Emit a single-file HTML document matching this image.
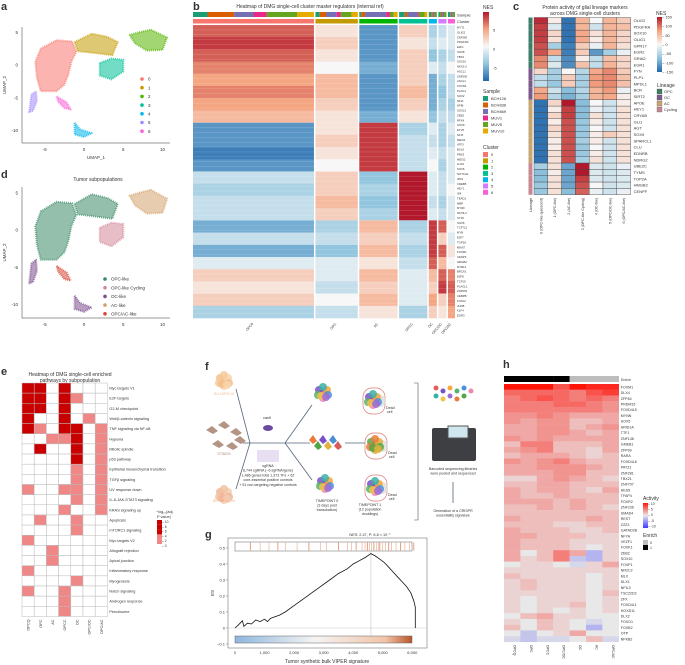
<!DOCTYPE html>
<html><head><meta charset="utf-8"><style>
html,body{margin:0;padding:0;background:#fff}
svg{display:block;font-family:"Liberation Sans",sans-serif}
text{fill:#333}
</style></head><body>
<svg id="fig" xmlns="http://www.w3.org/2000/svg" width="685" height="665" viewBox="0 0 685 665">
<rect width="685" height="665" fill="#fff"/>
<!-- panel letters -->
<g font-weight="bold" font-size="11">
<text x="1" y="10">a</text>
<text x="193" y="10">b</text>
<text x="513" y="10">c</text>
<text x="1" y="178">d</text>
<text x="1" y="375">e</text>
<text x="205" y="370">f</text>
<text x="205" y="538">g</text>
<text x="503" y="368">h</text>
</g>
<g id="pa"></g>
<g id="pd">
<text x="98" y="181" font-size="5" text-anchor="middle">Tumor subpopulations</text>
</g>
<g id="pb">
<text x="310" y="8" font-size="5" text-anchor="middle">Heatmap of DMG single-cell cluster master regulators (internal ref)</text>
</g>
<g id="pc">
<text x="585" y="9" font-size="5" text-anchor="middle">Protein activity of glial lineage markers</text>
<text x="585" y="15" font-size="5" text-anchor="middle">across DMG single-cell clusters</text>
</g>
<g id="pe">
<text x="70" y="376" font-size="5" text-anchor="middle">Heatmap of DMG single-cell enriched</text>
<text x="70" y="382" font-size="5" text-anchor="middle">pathways by subpopulation</text>
</g>
<g id="pf"></g>
<g id="pg"></g>
<g id="ph"></g>
</svg>
<script>
const NS='http://www.w3.org/2000/svg';
function mk(tag,at,parent){const e=document.createElementNS(NS,tag);for(const k in at)e.setAttribute(k,at[k]);parent.appendChild(e);return e;}
function txt(s,at,parent){const e=mk('text',at,parent);e.textContent=s;return e;}
function lerp(a,b,t){return a.map((v,i)=>Math.round(v+(b[i]-v)*t));}
const RDBU=[[33,102,172],[146,197,222],[247,247,247],[244,165,130],[178,24,43]];
function rdbu(v){v=Math.max(-1,Math.min(1,v));const p=(v+1)*2;const i=Math.min(3,Math.floor(p));const c=lerp(RDBU[i],RDBU[i+1],p-i);return 'rgb('+c+')';}

/* ---------- data: UMAP ---------- */
const clusterIds=['0','1','2','3','4','5','6'];
const clusterColors=['#f8766d','#c49a00','#53b400','#00c094','#00b6eb','#a58aff','#fb61d7'];
const clusterPolys=[
 [[-5.5,2.5],[-3.5,3.8],[-1.5,3.6],[-1,2],[-1.6,0.5],[-2,-1.5],[-2.5,-3],[-3.5,-4],[-5.5,-4],[-6,-2],[-6.2,0.5]],
 [[-1.2,3.5],[1,4.8],[3,4.3],[4.3,3.5],[3.6,1.5],[1.5,1.8],[-0.8,2.1]],
 [[5.8,4.6],[7,5],[8.5,5.4],[10.6,4.2],[10,2.3],[8,2.2],[6.5,3.3]],
 [[2,0.3],[3.5,1],[5,0.8],[5,-1],[3.5,-2.2],[2,-1.6]],
 [[-1.2,-8.8],[-0.5,-9.8],[1,-10.4],[0,-11],[-1.2,-10.6]],
 [[-7,-7.2],[-6.7,-4.5],[-6.1,-4],[-6,-5.5],[-6.5,-7]],
 [[-3.5,-4.8],[-2.2,-5.7],[-1.7,-6.8],[-2.5,-6.6],[-3.3,-5.6]]
];
const subNames=['OPC-like','OPC-like Cycling','OC-like','AC-like','OPC/AC-like'];
const subColors=['#3a8a67','#d4899a','#7e4f8d','#d3a36d','#d8493a'];
const clusterToSub=[0,0,3,1,2,2,4];
const umapXTicks=[-5,0,5,10];
const umapYTicks=[5,0,-5,-10];

function umapPanel(g,yScale,top,bot,colorFn,legendNames,legendColors,legY,legX,showXLab){
 const X=v=>84+v*7.85;
 mk('line',{x1:22,y1:top,x2:22,y2:bot,stroke:'#333','stroke-width':0.5},g);
 mk('line',{x1:22,y1:bot,x2:170,y2:bot,stroke:'#333','stroke-width':0.5},g);
 umapXTicks.forEach(t=>{const e=txt(String(t),{x:X(t),y:bot+8,'font-size':4.5,'text-anchor':'middle'},g);
  });
 umapYTicks.forEach(t=>{const e=txt(String(t),{x:18,y:yScale(t)+1.5,'font-size':4.5,'text-anchor':'end'},g);
  });
 const yl=txt('UMAP_2',{x:6,y:(top+bot)/2,'font-size':4.5,'text-anchor':'middle',transform:'rotate(-90 6 '+(top+bot)/2+')'},g);
 
 if(showXLab){const xl=txt('UMAP_1',{x:96,y:bot+16,'font-size':4.5,'text-anchor':'middle'},g);
  }
 clusterPolys.forEach((poly,i)=>{
  const pts=poly.map(p=>X(p[0]).toFixed(1)+','+yScale(p[1]).toFixed(1)).join(' ');
  const e=mk('polygon',{points:pts,fill:colorFn(i),'fill-opacity':0.55,stroke:colorFn(i),'stroke-width':2,'stroke-opacity':0.7,'stroke-linejoin':'round','stroke-dasharray':'1 1'},g);
  
 });
 legendNames.forEach((n,i)=>{
  const c=mk('circle',{cx:legX,cy:legY+i*8.7,r:1.8,fill:legendColors[i]},g);
  
  const t=txt(n,{x:legX+6,y:legY+i*8.7+1.7,'font-size':4.5},g);
  
 });
}
umapPanel(document.getElementById('pa'),v=>65-v*6.55,27,143,i=>clusterColors[i],clusterIds,clusterColors,79,142,true);
umapPanel(document.getElementById('pd'),v=>230-v*7.45,187,318,i=>subColors[clusterToSub[i]],subNames,subColors,279,105,false);

/* ---------- data: panel b ---------- */
const bGroups=['OPC0','OPC','AC','OPCC','OC','OPC/OC','OPC/AC'];
const bGroupCells=[120,42,38,28,8,8,7];
const bClusterColor=['#f8766d','#c49a00','#00b400','#00c094','#00b6eb','#d67bff','#fb61d7'];
const sampleNames=['BCH126','BCH836','BCH869','MUV1','MUV5','MUV10'];
const sampleColors=['#1b9e77','#d95f02','#7570b3','#e7298a','#66a61e','#e6ab02'];
const sampleFrac=[[.12,.22,.16,.11,.25,.14],[.1,.15,.25,.1,.25,.15],[.05,.1,.55,.1,.1,.1],[.2,.1,.35,.05,.2,.1],[.3,.2,.2,0,.3,0],[.3,.2,.2,0,.3,0],[.3,.1,.3,0,.3,0]];
const bNES=[
 [6,1,-6,2,-3,-2,-1],[7,2,-6,1,-2,-1,-1],[6,1,-6,2,-4,-3,-2],[5,0,-5,2,-1,-2,0],
 [4,3,-6,2,-5,-3,-2],[5,3,-6,3,-5,-4,-2],[4,2,-6,2,-5,-3,-3],[3,1,-5,1,-4,-2,-2],
 [-6,1,7,-3,-1,-3,-1],[-6,2,7,-2,-2,-3,-2],[-7,1,7,-2,-1,-2,-1],[-6,0,7,-2,0,-3,-1],
 [-2,2,-4,8,-1,-2,-1],[-3,2,-3,8,-1,-2,0],[-2,3,-4,8,-2,-3,-1],[-2,2,-3,8,-1,-2,-1],
 [-5,-3,3,-3,7,6,0],[-2,-2,2,-2,7,2,-1],[-5,-4,3,-3,7,6,1],[-1,-1,1,-2,6,3,0],
 [2,-1,3,-1,3,6,5],[1,-2,2,-1,2,7,6],[2,0,3,-1,4,2,5],[-3,-2,1,-3,2,1,4]
];
const bGenes=['MYT1','OLIG2','ZNF365','PDGFRA','E2F1','SOX8','TBX2','SOX10','NKX2-2','ASCL1','ZNF536','ASCL1','FOXN4','PLAG1','SOX2','NFIA','NFIB','SOX21','ZEB2','RFX4','SOX9','ETV5','NFIX','MEIS1','ATF3','BCL6','PBX3','MEIS2','LHX2','SOX6','NOTCH1','IRX2','CREB5','HEY1','ID4','TEAD1','MBP','MYRF','NKX6-2','ST18','SOX6','TCF7L2','MYB','E2F7','TOP2A','MKI67','FOXM1','CENPF','HMGB2','MYBL2','BRCA1','E2F8','TCF19','PLAGL1','ZNF503','CEBPB','FOSL2','JUNB','KLF4','EGR3'];
const pb=document.getElementById('pb');
(function(){
 const total=bGroupCells.reduce((a,b)=>a+b,0);const x0=193,x1=455,gap=1.5;
 const avail=x1-x0-gap*(bGroups.length-1);const y0=25,y1=318;const rh=(y1-y0)/bNES.length;
 let x=x0;
 bGroups.forEach((gname,gi)=>{
  const w=avail*bGroupCells[gi]/total;
  let sx=x;sampleFrac[gi].forEach((f,si)=>{if(f<=0)return;
   const r=mk('rect',{x:sx,y:12,width:w*f,height:5,fill:sampleColors[si]},pb);
   sx+=w*f;});
  const cr=mk('rect',{x:x,y:19,width:w,height:4.5,fill:bClusterColor[gi]},pb);
  
  bNES.forEach((row,ri)=>{
   const c=mk('rect',{x:x,y:y0+ri*rh,width:w,height:rh+0.3,fill:rdbu(row[gi]/8)},pb);
   
  });
  const lx=x+w/2;
  const t=txt(gname,{x:lx,y:324,'font-size':3.5,'text-anchor':'end',transform:'rotate(-50 '+lx+' 324)'},pb);
  
  x+=w+gap;
 });
 // texture stripes
 for(let i=0;i<bGenes.length;i++){
  const yy=y0+i*(y1-y0)/bGenes.length;
  const s=mk('line',{x1:x0,y1:yy,x2:x1,y2:yy,stroke:'#fff','stroke-width':0.35,'stroke-opacity':0.35},pb);
  
  const t=txt(bGenes[i],{x:457,y:yy+3.5,'font-size':2.8},pb);
  
 }
 txt('Sample',{x:457,y:16.5,'font-size':4},pb);
 txt('Cluster',{x:457,y:23,'font-size':4},pb);
 // NES legend
 const grad=mk('linearGradient',{id:'gb',x1:0,y1:1,x2:0,y2:0},pb);
 [-1,-.5,0,.5,1].forEach((v,i)=>mk('stop',{offset:i*25+'%','stop-color':rdbu(v)},grad));
 txt('NES',{x:483,y:9,'font-size':5},pb);
 const cb=mk('rect',{x:483,y:12,width:6,height:69,fill:'url(#gb)'},pb);
 
 [[5,30],[0,49],[-5,68]].forEach(p=>{const t=txt(String(p[0]),{x:493,y:p[1]+1.5,'font-size':4},pb);
  });
 txt('Sample',{x:483,y:93,'font-size':5},pb);
 sampleNames.forEach((n,i)=>{const r=mk('rect',{x:483,y:96+i*6.5,width:5,height:5,fill:sampleColors[i]},pb);
  
  const t=txt(n,{x:491,y:100+i*6.5,'font-size':4},pb);});
 txt('Cluster',{x:483,y:149,'font-size':5},pb);
 clusterIds.forEach((n,i)=>{const r=mk('rect',{x:483,y:152+i*6.3,width:5,height:5,fill:bClusterColor[i]},pb);
  
  const t=txt(n,{x:491,y:156+i*6.3,'font-size':4},pb);});
})();

/* ---------- data: panel c ---------- */
const cGenes=['OLIG2','PDGFRA','SOX10','OLIG1','GPR17','EGR2','GRIA2','EGR1','FYN','PLP1','MPDL1','BCR','SIRT2','APOE','HEY1','CRYAB','GLI1','AGT','SOX9','SPARCL1','CLU','EDNRB','NDRG2','UBE2C','TYMS','TOP2A','HMGB2','CENPF'];
const cLineage=[0,0,0,0,0,0,0,0,1,1,1,1,1,2,2,2,2,2,2,2,2,2,2,3,3,3,3,3];
const cClusters=['0 (OPC-like quiescent)','1 (OPC-like)','2 (AC-like)','3 (OPC-like Cycling)','4 (OC-like)','5 (OPC/OC-like)','6 (OPC/AC-like)'];
const cNES=[
[140,10,-140,60,0,60,40],[130,-20,-140,60,-30,60,50],[130,30,-140,70,20,60,30],[130,20,-140,70,10,60,30],
[120,-60,-130,40,-10,60,20],[120,70,-130,40,-110,-60,-10],[90,-40,-120,10,-40,50,30],[90,-20,-120,50,-40,60,30],
[30,-60,0,-50,70,90,40],[-40,-60,40,-60,80,90,50],[-40,-70,40,-60,80,90,50],[70,-30,-80,-50,60,80,-10],[80,-50,-90,-60,60,70,10],
[-140,30,150,-80,0,-30,10],[-140,10,130,-80,-10,-30,20],[-140,30,130,-80,20,-30,20],[-140,10,120,-70,10,-30,20],
[-140,30,120,-70,0,-30,20],[-140,20,120,-70,10,40,20],[-140,10,120,-60,10,-30,20],[-140,10,120,-70,0,-30,20],
[-140,20,120,-70,10,-30,20],[-140,20,120,-60,20,-30,20],
[-60,20,-100,150,-20,-30,-10],[-80,10,-100,150,-20,-30,-20],[-80,20,-100,130,-20,-30,-20],[-70,20,-100,120,0,-30,-20],[-70,20,-80,110,-10,-30,-10]];
const lineageNames=['OPC','OC','AC','Cycling'];
const lineageColors=['#3f7d66','#7a5a8a','#c9a571','#c88893'];
const nesTicksC=[150,100,50,0,-50,-100,-150];
const pc=document.getElementById('pc');
(function(){
 const x0=534,cw=13.8,y0=17.5,rh=6.33;
 cNES.forEach((row,ri)=>{
  const l=mk('rect',{x:528.5,y:y0+ri*rh,width:4,height:rh,fill:lineageColors[cLineage[ri]]},pc);
  
  row.forEach((v,ci)=>{const r=mk('rect',{x:x0+ci*cw,y:y0+ri*rh,width:cw,height:rh,fill:rdbu(v/150),stroke:'#444','stroke-width':0.4},pc);
   });
  const t=txt(cGenes[ri],{x:x0+7*cw+3,y:y0+ri*rh+4.5,'font-size':4},pc);
  
 });
 const yb=y0+cNES.length*rh+3;
 const lt=txt('Lineage',{x:532,y:yb,'font-size':4,'text-anchor':'end',transform:'rotate(-90 532 '+yb+')'},pc);
 
 cClusters.forEach((n,ci)=>{const cx=x0+ci*cw+cw/2+1.5;
  const t=txt(n,{x:cx,y:yb,'font-size':3.6,'text-anchor':'end',transform:'rotate(-90 '+cx+' '+yb+')'},pc);
  });
 const grad=mk('linearGradient',{id:'gc',x1:0,y1:1,x2:0,y2:0},pc);
 [-1,-.5,0,.5,1].forEach((v,i)=>mk('stop',{offset:i*25+'%','stop-color':rdbu(v)},grad));
 txt('NES',{x:656,y:15,'font-size':5},pc);
 const cb=mk('rect',{x:657,y:17,width:5,height:55,fill:'url(#gc)'},pc);
 
 nesTicksC.forEach(v=>{const yy=17+(150-v)/300*55;const t=txt('\u2013 '+v,{x:662,y:yy+1.5,'font-size':4},pc);
  });
 txt('Lineage',{x:657,y:87,'font-size':5},pc);
 lineageNames.forEach((n,i)=>{const r=mk('rect',{x:657,y:89+i*6,width:5,height:5,fill:lineageColors[i],stroke:'#555','stroke-width':0.3},pc);
  
  const t=txt(n,{x:664,y:93+i*6,'font-size':4},pc);});
})();

/* ---------- data: panel e ---------- */
const ePathways=['Myc targets V1','E2F targets','G2-M checkpoint','Wnt/\u03b2-catenin signaling','TNF signaling via NF-\u03baB','Hypoxia','Mitotic spindle','p53 pathway','Epithelial mesenchymal transition','TGF\u03b2 signaling','UV response down','IL-6-JAK-STAT3 signaling','KRAS signaling up','Apoptosis','mTORC1 signaling','Myc targets V2','Allograft rejection','Apical junction','Inflammatory response','Myogenesis','Notch signaling','Androgen response','Peroxisome'];
const eGroups=['OPCQ','OPC','AC','OPCC','OC','OPC/OC','OPC/AC'];
const eLogP=[
[10,10,0,10,0,0,0],[10,10,0,10,2,0,0],[10,10,0,10,0,0,0],[10,0,0,10,0,2,0],[10,2,0,10,10,0,2],
[0,0,2,2,10,0,2],[0,10,0,0,10,0,2],[0,0,0,0,10,0,2],[0,0,0,0,2,0,2],[0,0,0,0,2,0,2],
[2,0,0,2,2,0,2],[0,0,0,0,2,0,2],[0,0,0,2,0,0,2],[0,2,0,0,2,0,0],[0,0,0,0,2,0,0],
[2,0,0,0,0,0,0],[0,0,2,0,0,0,0],[0,0,2,0,0,0,0],[2,0,0,0,0,0,0],[0,0,0,0,2,0,0],
[2,0,0,2,0,0,0],[0,0,0,2,0,0,0],[0,0,0,2,0,0,0]];
const eLegendTicks=[10,8,6,4,2,0];
const pe=document.getElementById('pe');
(function(){
 const x0=22,cw=12.2,y0=383,rh=10.15;
 function col(v){return v>=6?'#c80000':(v>0?'#ef8787':'#fff');}
 eLogP.forEach((row,ri)=>{row.forEach((v,ci)=>{
  const r=mk('rect',{x:x0+ci*cw,y:y0+ri*rh,width:cw,height:rh,fill:col(v),stroke:'#bbb','stroke-width':0.5},pe);
  });
  const t=txt(ePathways[ri],{x:x0+7*cw+2,y:y0+ri*rh+6.5,'font-size':3.8},pe);
  });
 const yb=y0+eLogP.length*rh+3;
 eGroups.forEach((n,ci)=>{const cx=x0+ci*cw+cw/2+1.5;
  const t=txt(n,{x:cx,y:yb,'font-size':3.8,'text-anchor':'end',transform:'rotate(-90 '+cx+' '+yb+')'},pe);
  });
 txt('\u2212log\u2081\u2080(adj.',{x:156,y:513,'font-size':3.8},pe);
 txt('P value)',{x:157,y:518,'font-size':3.8},pe);
 eLegendTicks.forEach((v,i)=>{const r=mk('rect',{x:157,y:520+i*4.8,width:5,height:4.8,fill:col(v)},pe);
  
  const t=txt('\u2013 '+v,{x:162,y:523+i*4.8,'font-size':3.3},pe);});
})();

/* ---------- panel f schematic ---------- */
const pf=document.getElementById('pf');
(function(){
 function cluster(cx,cy,cols,name){const offs=[[0,0],[-4,-3],[4,-3],[-5,2],[5,2],[0,5],[0,-6],[-2,3],[3,4]];
  offs.forEach((o,i)=>{const c=mk('circle',{cx:cx+o[0],cy:cy+o[1],r:4,fill:cols[i%cols.length],'fill-opacity':0.85},pf);
   });}
 const pale=['#f6c99a','#f3be8a','#f8d3ab'];
 cluster(224,381,pale,'su-dipg-iv-cells');cluster(224,495,['#f1c2a3','#eeb597','#f5cdb2'],'su-dipg-xiii-cells');
 const brown=[[212,430],[224,425],[236,432],[218,444],[232,446],[240,440]];
 brown.forEach(p=>{const e=mk('path',{d:`M${p[0]-6},${p[1]} L${p[0]},${p[1]-4} L${p[0]+6},${p[1]+1} L${p[0]+1},${p[1]+4}Z`,fill:'#b49585'},pf);
  });
 [['SU-DIPG-IV',224,395,'#f0b88a'],['ST8826',224,455,'#b49585'],['SU-DIPG-XIII',224,502,'#eeb08d']].forEach(a=>{
  const t=txt(a[0],{x:a[1],y:a[2],'font-size':3.8,'text-anchor':'middle',fill:a[3]},pf);t.style.fill=a[3];
  });
 const lines=[[236,389,250,443],[243,443,250,443],[236,489,250,443],[250,443,285,443],[285,443,312,405],[285,443,310,443],[285,443,312,480],[345,443,365,443]];
 lines.forEach(l=>{const e=mk('line',{x1:l[0],y1:l[1],x2:l[2],y2:l[3],stroke:'#55657a','stroke-width':0.8},pf);
  });
 const cas=mk('ellipse',{cx:268,cy:428,rx:5,ry:3,fill:'#6c4aa0'},pf);
 txt('cas9',{x:263,y:419,'font-size':3.8,fill:'#6c4aa0'},pf);
 const sg=mk('rect',{x:257,y:450,width:22,height:12,fill:'#d9c8e8','fill-opacity':0.6},pf);
 ['sgRNA','8,744 sgRNA (~6 sgRNA/gene)','1,486 genes total 1,373 TFs + 62','core-essential positive controls','+ 51 non-targeting negative controls'].forEach((s,i)=>{
  const t=txt(s,{x:268,y:467+i*4.7,'font-size':3.6,'text-anchor':'middle'},pf);});
 const multi=['#e85c5c','#7b4fc9','#f7a83b','#53b46a','#4a90d9','#ef87b2','#3ab0a8','#f2c14e','#9c6bd6'];
 cluster(323,393,multi,'transduced-cells-top');cluster(325,484,multi,'transduced-cells-bottom');
 ['#e87c3b','#53a648','#7b4fc9','#e0b23b','#4a8fd0','#d85a5a'].forEach((c,i)=>{const x=313+i*5,y=440+(i%2)*6;
  const e=mk('path',{d:`M${x-4},${y} L${x},${y-5} L${x+4},${y+1} L${x},${y+4}Z`,fill:c},pf);});
 ['TIMEPOINT 0','(3 days post','transduction)'].forEach((s,i)=>{const t=txt(s,{x:327,y:502+i*4.5,'font-size':3.6,'text-anchor':'middle'},pf);});
 [[374,401],[376,446],[376,488]].forEach((p,k)=>{
  const b=mk('rect',{x:p[0]-11,y:p[1]-13,width:22,height:26,rx:9,fill:'none',stroke:'#d77a72','stroke-width':0.7},pf);
  
  mk('circle',{cx:p[0]+6,cy:p[1],r:6,fill:'#ddd','fill-opacity':0.8},pf);
  cluster(p[0]-1,p[1]-1,k===1?['#e87c3b','#53a648','#e0b23b']:multi,'surviving-cells');
  txt('Dead',{x:p[0]+12,y:p[1]+8,'font-size':3.6},pf);
  txt('cell',{x:p[0]+13,y:p[1]+12,'font-size':3.6},pf);
 });
 ['TIMEPOINT 1','(12 population','doublings)'].forEach((s,i)=>{const t=txt(s,{x:370,y:506+i*4.5,'font-size':3.6,'text-anchor':'middle'},pf);});
 const br=mk('path',{d:'M414,383 L418,383 L418,520 L414,520',fill:'none',stroke:'#555','stroke-width':0.6},pf);
 multi.concat(['#e87c3b','#53a648']).forEach((c,i)=>{const e=mk('circle',{cx:436+(i%6)*7,cy:388+Math.floor(i/6)*8+(i%2)*3,r:2.5,fill:c},pf);});
 const sq=mk('rect',{x:432,y:428,width:44,height:33,rx:2,fill:'#3d3f43'},pf);
 const sc=mk('rect',{x:448,y:426,width:20,height:12,fill:'#cfe6ef',stroke:'#555','stroke-width':1},pf);
 ['Barcoded sequencing libraries','were pooled and sequenced'].forEach((s,i)=>{const t=txt(s,{x:453,y:470+i*4.7,'font-size':3.6,'text-anchor':'middle'},pf);});
 mk('line',{x1:453,y1:482,x2:453,y2:503,stroke:'#55657a','stroke-width':0.8},pf);
 ['Generation of a CRISPR','essentiality signature'].forEach((s,i)=>{const t=txt(s,{x:453,y:512+i*4.7,'font-size':3.6,'text-anchor':'middle'},pf);});
})();

/* ---------- data: panel g ---------- */
const gRanks=[0,120,250,300,420,560,700,850,1000,1100,1200,1350,1500,1700,2000,2300,2600,2900,3200,3500,3800,4000,4200,4400,4600,4750,4900,5050,5200,5350,5500,5650,5800,5950,6050,6100,6100];
const gES=[0,0.02,0.045,0.01,0.03,0.025,0.05,0.04,0.055,0.04,0.06,0.07,0.08,0.1,0.14,0.18,0.22,0.26,0.3,0.34,0.37,0.4,0.42,0.44,0.465,0.45,0.43,0.41,0.38,0.35,0.32,0.29,0.26,0.22,0.17,0.13,0.0];
const gHits=[520,850,1150,1450,1700,2100,2500,2900,3100,3500,3800,3950,4100,4300,4400,4480,4550,4620,4700,4780,4850,4900,5000,5100,5200,5300,5450,5600,5750,5900,6050];
const gYTicks=[0.5,0.4,0.3,0.2,0.1,0,-0.1];
const gXTicks=[0,1000,2000,3000,4000,5000,6000];
const pg=document.getElementById('pg');
(function(){
 const X=r=>235+r*0.02955,Y=v=>628-v*160;
 const fr=mk('rect',{x:228,y:538,width:199,height:110,fill:'none',stroke:'#777','stroke-width':0.6},pg);
 mk('line',{x1:228,y1:Y(0),x2:427,y2:Y(0),stroke:'#ccc','stroke-width':0.5},pg);
 const bc=mk('rect',{x:235,y:542,width:177,height:9,fill:'#fff',stroke:'#666','stroke-width':0.5},pg);
 gHits.forEach((h,i)=>{const e=mk('line',{x1:X(h),y1:542.5,x2:X(h),y2:550.5,stroke:'#e07a50','stroke-width':i%3===0?0.9:0.5,'stroke-opacity':0.8},pg);
  });
 const grad=mk('linearGradient',{id:'gg',x1:0,y1:0,x2:1,y2:0},pg);
 [['0%','#8fb6dc'],['45%','#f4f4f4'],['85%','#f1c4a8'],['100%','#b8552a']].forEach(s=>mk('stop',{offset:s[0],'stop-color':s[1]},grad));
 const gb=mk('rect',{x:235,y:636,width:177,height:7,fill:'url(#gg)',stroke:'#666','stroke-width':0.5},pg);
 const peakI=gES.indexOf(Math.max(...gES));
 mk('line',{x1:X(gRanks[peakI]),y1:551,x2:X(gRanks[peakI]),y2:636,stroke:'#bbb','stroke-width':0.5},pg);
 const d=gRanks.map((r,i)=>(i?'L':'M')+X(r).toFixed(1)+','+Y(gES[i]).toFixed(1)).join(' ');
 const p=mk('path',{d:d,fill:'none',stroke:'#111','stroke-width':0.8},pg);
 gYTicks.forEach(v=>{const t=txt(v===0?'0':(v<0?'\u2212'+(-v):String(v)),{x:225,y:Y(v)+1.5,'font-size':4,'text-anchor':'end'},pg);
  
  mk('line',{x1:226,y1:Y(v),x2:228,y2:Y(v),stroke:'#777','stroke-width':0.5},pg);});
 gXTicks.forEach(v=>{const t=txt(v.toLocaleString('en-US'),{x:X(v),y:654,'font-size':4,'text-anchor':'middle'},pg);
  });
 txt('ES',{x:214,y:593,'font-size':4.5,'text-anchor':'middle',transform:'rotate(-90 214 593)'},pg);
 txt('Tumor synthetic bulk VIPER signature',{x:327,y:663,'font-size':5,'text-anchor':'middle'},pg);
 txt('NES: 2.47, P: 6.8 \u00d7 10\u207b\u2077',{x:370,y:536,'font-size':3.8,'text-anchor':'middle'},pg);
})();

/* ---------- data: panel h ---------- */
const hGenes=['FOXM1','DLX4','ZFP64','PRDM15','FOXD4L5','MYNN','SOX5','ARID1A','TTF1','ZNF148','GMEB1','ZFP69','RARA','FOXD4L6','PATZ1','ZNF281','TBX21','ZNF707','HES5','TFAP4','FOXR2','ZNF236','SMAD4','REST','ZZZ3','GATAD2B','NFYA','VEZF1','FOXK1','ZEB2','SOX10','FOXP1','NR2C2','MLX','DLX1','NFIL3','TSC22D2','ZFX','FOXD4L1','HOXD11','DLX2','FOXO1','FOXB2','OTP','NFKB2'];
const hGroups=['OPCQ','OPC','OPCC','OPC/OC','OC','AC','OPC/AC'];
const hEnrich=[1,1,1,1,0,0,0];
const hAct=[
[10,10,10,7,10,9,9],[6,6,6,6,5,7,8],[5,6,7,6,5,6,5],[5,5,5,6,6,5,4],[5,5,5,5,5,5,4],[4,4,5,4,3,3,3],[4,3,4,4,2,2,3],
[3,3,4,4,2,3,4],[3,3,4,4,3,2,3],[4,3,4,3,3,3,3],[2,5,5,2,2,2,3],[3,4,5,2,2,1,3],[2,3,3,3,2,1,2],[4,3,4,5,3,2,2],
[3,3,4,4,4,3,2],[3,3,3,4,4,2,2],[1,1,3,4,3,2,1],[2,2,3,3,2,2,2],[3,2,3,3,2,1,3],[3,2,2,3,2,2,2],[3,3,3,2,3,2,2],
[2,2,3,2,3,2,1],[2,2,2,2,2,2,2],[3,2,2,2,2,3,2],[2,2,2,1,1,2,2],[3,2,2,2,1,1,2],[3,3,2,2,2,1,1],[3,2,2,2,1,1,1],
[3,2,2,2,1,0,1],[3,0,2,5,3,-3,1],[3,1,2,5,-2,-3,1],[0,1,1,0,-1,1,3],[1,1,1,1,1,1,1],[2,1,1,1,1,0,1],[1,2,1,1,1,0,1],
[1,2,1,1,1,0,1],[1,1,1,1,1,0,2],[1,0,1,1,1,0,1],[1,0,1,1,2,0,1],[1,0,1,0,1,0,1],[0,2,3,1,1,0,0],[1,0,2,1,0,-1,0],
[2,0,2,1,0,-3,0],[0,-2,0,1,3,0,0],[-1,-2,-1,-1,0,2,-1]];
const hLegendTicks=[10,5,0,-5,-10];
const ph=document.getElementById('ph');
(function(){
 const grey=[232,232,232],red=[255,20,10],blue=[40,40,255];
 function hc(v){const t=Math.min(1,Math.abs(v)/10);return 'rgb('+lerp(grey,v>=0?red:blue,v>=0?t:t*0.9)+')';}
 const x0=504,cw=16.4,y0=384,rh=5.73;
 hEnrich.forEach((e,ci)=>{const r=mk('rect',{x:x0+ci*cw,y:376,width:cw+0.2,height:6,fill:e?'#000':'#bdbdbd'},ph);
  });
 txt('Enrich',{x:621,y:381,'font-size':3.5},ph);
 hAct.forEach((row,ri)=>{row.forEach((v,ci)=>{const r=mk('rect',{x:x0+ci*cw,y:y0+ri*rh,width:cw+0.2,height:rh+0.2,fill:hc(v)},ph);
  });
  const t=txt(hGenes[ri],{x:x0+7*cw+2,y:y0+ri*rh+4.3,'font-size':3.6},ph);});
 const yb=y0+hAct.length*rh+3;
 hGroups.forEach((n,ci)=>{const cx=x0+ci*cw+cw/2+1.3;
  const t=txt(n,{x:cx,y:yb,'font-size':3.6,'text-anchor':'start',transform:'rotate(90 '+cx+' '+yb+')'},ph);
  });
 txt('Activity',{x:643,y:500,'font-size':5},ph);
 const grad=mk('linearGradient',{id:'gh',x1:0,y1:0,x2:0,y2:1},ph);
 [['0%',hc(10)],['50%',hc(0)],['100%',hc(-10)]].forEach(s=>mk('stop',{offset:s[0],'stop-color':s[1]},grad));
 const cb=mk('rect',{x:643,y:503,width:5,height:25,fill:'url(#gh)'},ph);
 hLegendTicks.forEach((v,i)=>{const t=txt('\u2013 '+v,{x:648,y:505+i*5.6,'font-size':3.4},ph);});
 txt('Enrich',{x:643,y:537,'font-size':5},ph);
 [['#bdbdbd','0'],['#000','1']].forEach((s,i)=>{const r=mk('rect',{x:643,y:540+i*5,width:5,height:5,fill:s[0]},ph);
  const t=txt(s[1],{x:650,y:544+i*5,'font-size':3.6},ph);});
})();
</script>
</body></html>
